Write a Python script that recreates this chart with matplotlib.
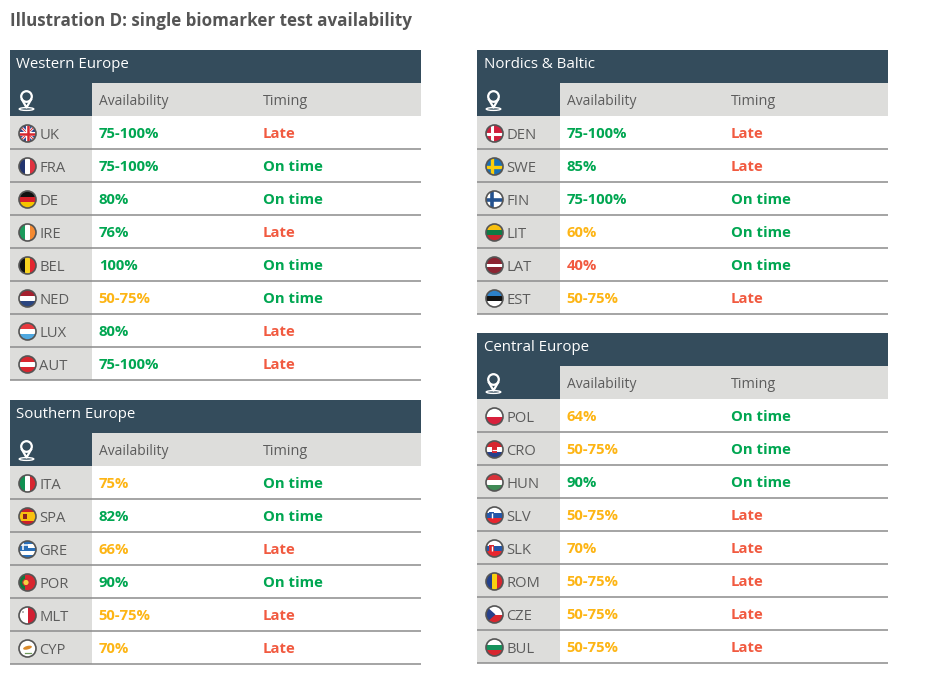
import matplotlib
matplotlib.use("Agg")
import matplotlib.pyplot as plt
from matplotlib.patches import Rectangle, Circle, Ellipse, Polygon

W, H = 925, 687
FONT = "Open Sans"
DARK = "#344c5c"; GREY = "#dddddb"; LINE = "#8c8c8c"; TXT = "#5c5c5c"
COL = {"g": "#00a651", "a": "#fdb515", "r": "#f15a40"}

title = "Illustration D: single biomarker test availability"
col_labels = ["Availability", "Timing"]

west_names = ["UK", "FRA", "DE", "IRE", "BEL", "NED", "LUX", "AUT"]
west_avail = ["75-100%", "75-100%", "80%", "76%", "100%", "50-75%", "80%", "75-100%"]
west_tier = ["g", "g", "g", "g", "g", "a", "g", "g"]
west_timing = ["Late", "On time", "On time", "Late", "On time", "On time", "Late", "Late"]

south_names = ["ITA", "SPA", "GRE", "POR", "MLT", "CYP"]
south_avail = ["75%", "82%", "66%", "90%", "50-75%", "70%"]
south_tier = ["a", "g", "a", "g", "a", "a"]
south_timing = ["On time", "On time", "Late", "On time", "Late", "Late"]

nordic_names = ["DEN", "SWE", "FIN", "LIT", "LAT", "EST"]
nordic_avail = ["75-100%", "85%", "75-100%", "60%", "40%", "50-75%"]
nordic_tier = ["g", "g", "g", "a", "r", "a"]
nordic_timing = ["Late", "Late", "On time", "On time", "On time", "Late"]

central_names = ["POL", "CRO", "HUN", "SLV", "SLK", "ROM", "CZE", "BUL"]
central_avail = ["64%", "50-75%", "90%", "50-75%", "70%", "50-75%", "50-75%", "50-75%"]
central_tier = ["a", "a", "g", "a", "a", "a", "a", "a"]
central_timing = ["On time", "On time", "On time", "Late", "Late", "Late", "Late", "Late"]

# flag stripes: (direction, colours)
STRIPES = {
    "FRA": ("v", ["#22346e", "#ffffff", "#e0313f"]),
    "DE": ("h", ["#111111", "#d8202a", "#f5c400"]),
    "IRE": ("v", ["#1a9a5b", "#ffffff", "#f58a32"]),
    "BEL": ("v", ["#111111", "#f8d320", "#e3262f"]),
    "NED": ("h", ["#a5202f", "#ffffff", "#2a4580"]),
    "LUX": ("h", ["#e8393f", "#ffffff", "#4fa8e0"]),
    "AUT": ("h", ["#d8262f", "#ffffff", "#d8262f"]),
    "ITA": ("v", ["#109050", "#ffffff", "#d8262f"]),
    "SPA": ("h", ["#c8202a", "#f8c010", "#f8c010", "#c8202a"]),
    "POR": ("v", ["#0d7a3a", "#d8262f", "#d8262f"]),
    "MLT": ("v", ["#ffffff", "#d21f33"]),
    "CYP": ("h", ["#ffffff"]),
    "LIT": ("h", ["#f8c010", "#0f7a45", "#c8262f"]),
    "LAT": ("h", ["#8c2432", "#8c2432", "#ffffff", "#8c2432", "#8c2432"]),
    "EST": ("h", ["#2c80c8", "#111111", "#ffffff"]),
    "POL": ("h", ["#ffffff", "#d8203c"]),
    "CRO": ("h", ["#d8262f", "#ffffff", "#27408b"]),
    "HUN": ("h", ["#d8323a", "#ffffff", "#3f8a55"]),
    "SLV": ("h", ["#ffffff", "#2456a8", "#e8262f"]),
    "SLK": ("h", ["#ffffff", "#2456a8", "#e8262f"]),
    "ROM": ("v", ["#22408c", "#f8d010", "#d8262f"]),
    "BUL": ("h", ["#ffffff", "#15925c", "#d8262f"]),
    "GRE": ("h", ["#2a6fb8", "#ffffff", "#2a6fb8", "#ffffff", "#2a6fb8"]),
    "CZE": ("h", ["#ffffff", "#d8262f"]),
    "UK": ("h", ["#27408b"]),
    "DEN": ("h", ["#d01f3c"]),
    "SWE": ("h", ["#1a6fb5"]),
    "FIN": ("h", ["#ffffff"]),
}
NORDIC_CROSS = {"DEN": ("#ffffff", 2.2), "SWE": ("#fcce0a", 2.4), "FIN": ("#24528f", 2.6)}

fig = plt.figure(figsize=(W / 100, H / 100), dpi=100)
ax = fig.add_axes([0, 0, 1, 1])
ax.set_xlim(0, W); ax.set_ylim(H, 0); ax.axis("off")


def rect(x, y, w, h, c, z=1, clip=None):
    p = Rectangle((x, y), w, h, fc=c, ec="none", lw=0, zorder=z)
    ax.add_patch(p)
    if clip is not None:
        p.set_clip_path(clip)
    return p


def flag(name, cx, cy, r=8.5):
    clip = Circle((cx, cy), r, transform=ax.transData)
    d, cols = STRIPES[name]
    n = len(cols)
    for i, c in enumerate(cols):
        if d == "h":
            rect(cx - r, cy - r + 2 * r * i / n, 2 * r, 2 * r / n + .3, c, 3, clip)
        else:
            rect(cx - r + 2 * r * i / n, cy - r, 2 * r / n + .3, 2 * r, c, 3, clip)

    def seg(x0, y0, x1, y1, c, lw):
        l, = ax.plot([x0, x1], [y0, y1], color=c, lw=lw, zorder=4, solid_capstyle="butt")
        l.set_clip_path(clip)

    if name == "UK":
        for s in (1, -1):
            seg(cx - r, cy - s * r, cx + r, cy + s * r, "#ffffff", 2.0)
            seg(cx - r, cy - s * r, cx + r, cy + s * r, "#d8262f", 0.7)
        seg(cx - r, cy, cx + r, cy, "#ffffff", 3.0)
        seg(cx, cy - r, cx, cy + r, "#ffffff", 3.0)
        seg(cx - r, cy, cx + r, cy, "#d8262f", 1.8)
        seg(cx, cy - r, cx, cy + r, "#d8262f", 1.8)
    if name in NORDIC_CROSS:
        c, lw = NORDIC_CROSS[name]
        seg(cx - r, cy, cx + r, cy, c, lw)
        seg(cx - 2.5, cy - r, cx - 2.5, cy + r, c, lw)
    if name == "CZE":
        t = Polygon([(cx - r, cy - r), (cx + 1, cy), (cx - r, cy + r)], fc="#27408b", ec="none", zorder=4)
        ax.add_patch(t); t.set_clip_path(clip)
    if name == "GRE":
        rect(cx - r, cy - r, r, r, "#2a6fb8", 4, clip)
        seg(cx - r, cy - r / 2, cx, cy - r / 2, "#ffffff", 1.1)
        seg(cx - r / 2, cy - r, cx - r / 2, cy, "#ffffff", 1.1)
    if name == "SPA":
        rect(cx - 5, cy - 2.5, 4, 5, "#8c2020", 4, clip)
    if name == "POR":
        ax.add_patch(Circle((cx - 1.5, cy), 3.2, fc="#f5d040", ec="#c8262f", lw=.8, zorder=4))
    if name == "MLT":
        rect(cx - 6, cy - 5, 2.5, 2.5, "#b8b8b8", 4, clip)
    if name == "CYP":
        ax.add_patch(Ellipse((cx, cy - .8), 9, 3.5, angle=-15, fc="#d98a2b", ec="none", zorder=4))
        ax.plot([cx - 3, cx + 3], [cy + 4, cy + 4], color="#6f9a5b", lw=.9, zorder=4)
    if name in ("SLV", "SLK"):
        rect(cx - 5.5, cy - 4, 5, 6.5, "#d8262f" if name == "SLK" else "#2456a8", 4, clip)
        seg(cx - 3, cy - 3, cx - 3, cy + 2, "#ffffff", 1)
    if name == "CRO":
        rect(cx - 2.5, cy - 3, 5, 6.5, "#d8262f", 4, clip)
        seg(cx - 2.5, cy, cx + 2.5, cy, "#ffffff", .8)
    ax.add_patch(Circle((cx, cy), r, fc="none", ec="#555555", lw=1.2, zorder=5))


def pin(cx, top):
    ax.add_patch(Circle((cx, top + 8.5), 5.3, fc="none", ec="white", lw=1.6, zorder=3))
    ax.plot([cx - 4.6, cx, cx + 4.6], [top + 11.5, top + 19.5, top + 11.5], color="white", lw=1.6, zorder=3)
    ax.add_patch(Ellipse((cx, top + 21), 14.5, 2.8, fc="none", ec="white", lw=1, zorder=3))


def panel(x, top, heading, names, avail, tier, timing, dx=0):
    w, h, left = 411, 33, 82 + dx
    rect(x, top, w, 33, DARK)
    rect(x, top + 33, left, 33, DARK)
    rect(x + left, top + 33, w - left, 33, GREY)
    ax.text(x + 6.5, top + 18.3, heading, color="white", fontsize=10.8, family=FONT, ha="left", zorder=6)
    ax.text(x + 89 + dx, top + 55, col_labels[0], color=TXT, fontsize=10.0, family=FONT, ha="left", zorder=6)
    ax.text(x + 253 + dx, top + 55, col_labels[1], color=TXT, fontsize=10.4, family=FONT, ha="left", zorder=6)
    pin(x + 16.5, top + 38)
    y0 = top + 66
    rect(x, y0, left, h * len(names), GREY)
    for i, (n, a, t, tm) in enumerate(zip(names, avail, tier, timing)):
        y = y0 + i * h
        cy = y + h / 2
        flag(n, x + 17.5, cy + 1)
        ax.text(x + 29.4, cy + 6.8, n, color=TXT, fontsize=10.6, family=FONT, ha="left", zorder=6)
        ax.text(x + 88.7 + dx * .6, cy + 5.5, a, color=COL[t], fontsize=10.7, weight="bold", family=FONT, ha="left", zorder=6)
        ax.text(x + 253 + dx * .6, cy + 5.5, tm, color=COL["r"] if tm == "Late" else COL["g"], fontsize=10.7,
                weight="bold", family=FONT, ha="left", zorder=6)
        ax.plot([x, x + w], [y + h, y + h], color=LINE, lw=1.1, zorder=2, solid_capstyle="butt")


ax.text(10, 26, title, color="#555555", fontsize=12.25, weight="bold", family=FONT, ha="left")
panel(10, 50, "Western Europe", west_names, west_avail, west_tier, west_timing)
panel(10, 400, "Southern Europe", south_names, south_avail, south_tier, south_timing)
panel(477, 50, "Nordics & Baltic", nordic_names, nordic_avail, nordic_tier, nordic_timing, dx=1)
panel(477, 333, "Central Europe", central_names, central_avail, central_tier, central_timing, dx=1)

fig.savefig("out.png", dpi=100)
